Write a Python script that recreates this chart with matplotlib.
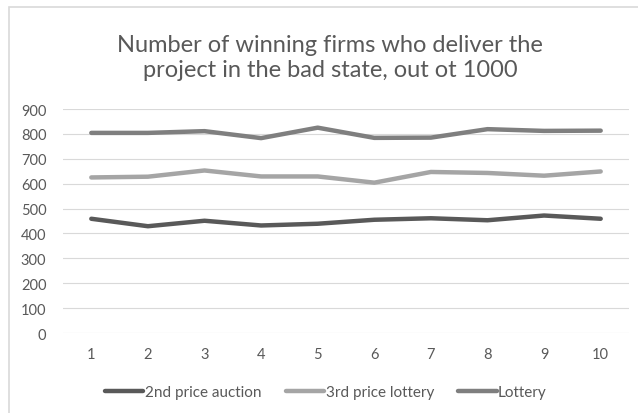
import matplotlib.pyplot as plt
from matplotlib.patches import Rectangle

runs = list(range(1, 11))
second_price_auction = [459, 429, 451, 432, 439, 455, 461, 453, 472, 459]
third_price_lottery = [625, 628, 653, 629, 629, 604, 647, 643, 632, 649]
lottery = [804, 804, 811, 783, 825, 784, 785, 819, 812, 813]
y_ticks = list(range(0, 1000, 100))

plt.rcParams['font.family'] = ['Lato', 'DejaVu Sans']

W, H = 638, 414
fig = plt.figure(figsize=(W / 100, H / 100), dpi=100)
ax = fig.add_axes([63 / W, 1 - 334 / H, (629 - 63) / W, (334 - 110) / H])

# chart area frame (only its top-left corner falls inside the image)
fig.patches.append(Rectangle((9 / W, -0.1), 1.2, 1 - 8 / H + 0.1,
                             transform=fig.transFigure, fill=False,
                             edgecolor='#d9d9d9', linewidth=1.2))

ax.plot(runs, second_price_auction, color='#595959', lw=3.2,
        solid_capstyle='round', label='2nd price auction')
ax.plot(runs, third_price_lottery, color='#a5a5a5', lw=3.2,
        solid_capstyle='round', label='3rd price lottery')
ax.plot(runs, lottery, color='#7f7f7f', lw=3.2,
        solid_capstyle='round', label='Lottery')

ax.set_xlim(0.5, 10.5)
ax.set_ylim(0, 900)
ax.set_xticks(runs)
ax.set_yticks(y_ticks)
ax.grid(axis='y', color='#d9d9d9', linewidth=0.8)
ax.set_axisbelow(True)
for s in ax.spines.values():
    s.set_visible(False)
ax.tick_params(length=0, labelsize=10.5, colors='#595959')
ax.tick_params(axis='x', pad=10)
ax.tick_params(axis='y', pad=12)

fig.text(330 / W, 1 - 58 / H,
         'Number of winning firms who deliver the\nproject in the bad state, out ot 1000',
         ha='center', va='center', fontsize=17, color='#595959',
         linespacing=1.2)

fig.legend(loc='center', bbox_to_anchor=(326 / W, 1 - 393 / H), ncol=3,
           frameon=False, fontsize=11, labelcolor='#595959',
           handlelength=2.5, handletextpad=0.1, columnspacing=1.6)

fig.savefig('out.png', dpi=100)
